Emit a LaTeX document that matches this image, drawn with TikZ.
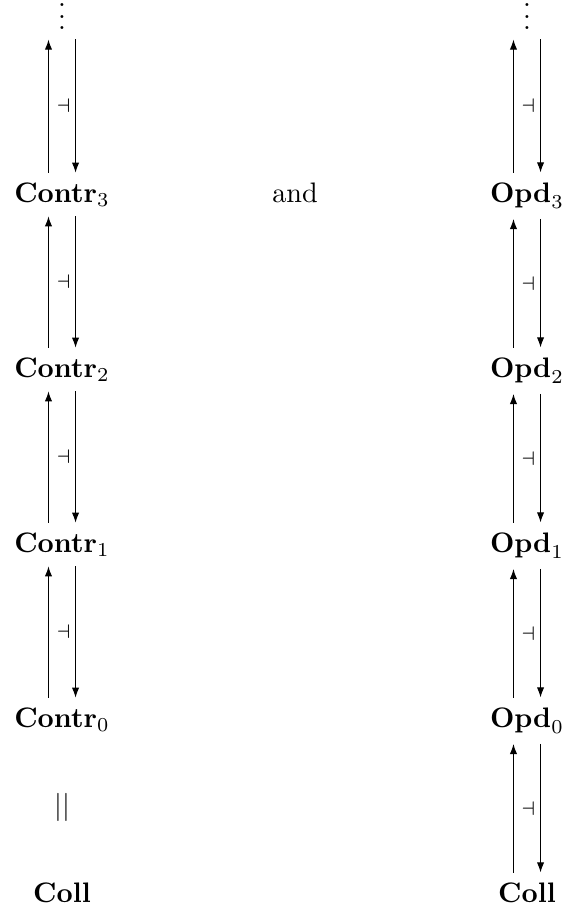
\documentclass[tikz,border=0pt]{standalone}
\usetikzlibrary{arrows.meta}
\begin{document}
\begin{tikzpicture}[>={Latex[length=3.6pt,width=2.6pt]}, line width=0.4pt,
  cat/.style={anchor=base},
  adj/.style={left, inner sep=1.6pt, font=\scriptsize}]
\useasboundingbox (0,0) rectangle (7.054,-11.341);
\node[cat] (dL) at (0.773,-0.368) {$\vdots$};
\node[cat] (c3) at (0.773,-2.518) {$\mathbf{Contr}_3$};
\node[cat] (c2) at (0.773,-4.699) {$\mathbf{Contr}_2$};
\node[cat] (c1) at (0.773,-6.880) {$\mathbf{Contr}_1$};
\node[cat] (c0) at (0.773,-9.061) {$\mathbf{Contr}_0$};
\node (eq) at (0.773,-10.058) {$||$};
\node[cat] (kL) at (0.773,-11.242) {$\mathbf{Coll}$};
\node[cat] (and) at (3.677,-2.518) {and};
\node[cat] (dR) at (6.568,-0.368) {$\vdots$};
\node[cat] (o3) at (6.568,-2.518) {$\mathbf{Opd}_3$};
\node[cat] (o2) at (6.568,-4.699) {$\mathbf{Opd}_2$};
\node[cat] (o1) at (6.568,-6.880) {$\mathbf{Opd}_1$};
\node[cat] (o0) at (6.568,-9.061) {$\mathbf{Opd}_0$};
\node[cat] (kR) at (6.568,-11.242) {$\mathbf{Coll}$};
\draw[->] ([xshift=-4.8pt]c3.north) -- ([xshift=-4.8pt]dL.south);
\draw[->] ([xshift=4.8pt]dL.south) -- node[adj] (aL3) {$\dashv$} ([xshift=4.8pt]c3.north);
\draw[->] ([xshift=-4.8pt]c2.north) -- ([xshift=-4.8pt]c3.south);
\draw[->] ([xshift=4.8pt]c3.south) -- node[adj] (aL2) {$\dashv$} ([xshift=4.8pt]c2.north);
\draw[->] ([xshift=-4.8pt]c1.north) -- ([xshift=-4.8pt]c2.south);
\draw[->] ([xshift=4.8pt]c2.south) -- node[adj] (aL1) {$\dashv$} ([xshift=4.8pt]c1.north);
\draw[->] ([xshift=-4.8pt]c0.north) -- ([xshift=-4.8pt]c1.south);
\draw[->] ([xshift=4.8pt]c1.south) -- node[adj] (aL0) {$\dashv$} ([xshift=4.8pt]c0.north);
\draw[->] ([xshift=-4.8pt]o3.north) -- ([xshift=-4.8pt]dR.south);
\draw[->] ([xshift=4.8pt]dR.south) -- node[adj] (aR3) {$\dashv$} ([xshift=4.8pt]o3.north);
\draw[->] ([xshift=-4.8pt]o2.north) -- ([xshift=-4.8pt]o3.south);
\draw[->] ([xshift=4.8pt]o3.south) -- node[adj] (aR2) {$\dashv$} ([xshift=4.8pt]o2.north);
\draw[->] ([xshift=-4.8pt]o1.north) -- ([xshift=-4.8pt]o2.south);
\draw[->] ([xshift=4.8pt]o2.south) -- node[adj] (aR1) {$\dashv$} ([xshift=4.8pt]o1.north);
\draw[->] ([xshift=-4.8pt]o0.north) -- ([xshift=-4.8pt]o1.south);
\draw[->] ([xshift=4.8pt]o1.south) -- node[adj] (aR0) {$\dashv$} ([xshift=4.8pt]o0.north);
\draw[->] ([xshift=-4.8pt]kR.north) -- ([xshift=-4.8pt]o0.south);
\draw[->] ([xshift=4.8pt]o0.south) -- node[adj] (aRk) {$\dashv$} ([xshift=4.8pt]kR.north);
\end{tikzpicture}
\end{document}
